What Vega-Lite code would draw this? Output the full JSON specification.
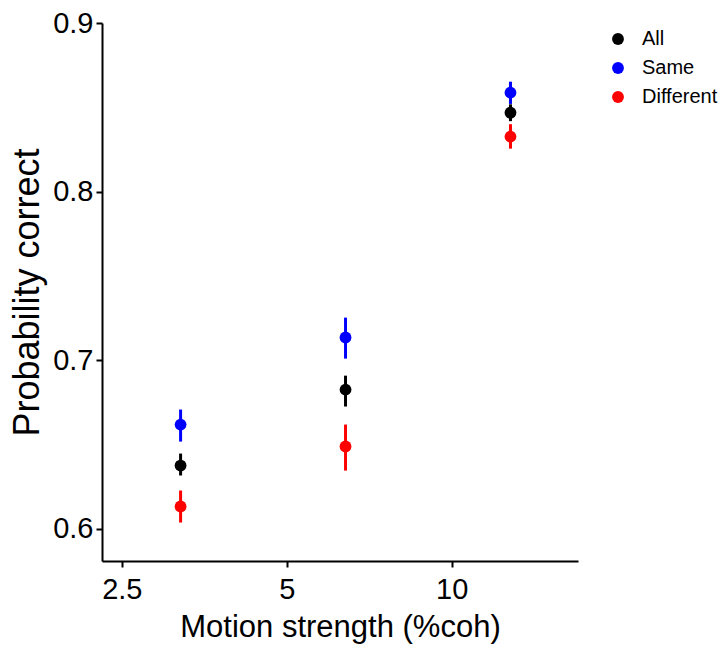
{
  "$schema": "https://vega.github.io/schema/vega-lite/v6.json",
  "width": 476,
  "height": 538,
  "autosize": "none",
  "padding": {"left": 102, "top": 23, "right": 145, "bottom": 87},
  "background": "white",
  "config": {
    "view": {"stroke": null},
    "font": "Liberation Sans",
    "axis": {
      "grid": false,
      "domainColor": "black",
      "domainWidth": 2,
      "tickColor": "black",
      "tickWidth": 2,
      "tickSize": 6,
      "labelColor": "black",
      "titleColor": "black",
      "labelFont": "Liberation Sans",
      "titleFont": "Liberation Sans",
      "titleFontWeight": "normal"
    }
  },
  "data": {
    "values": [
      {"coh": 3.2, "group": "Different", "p": 0.6133, "lo": 0.6038, "hi": 0.6228},
      {"coh": 6.4, "group": "Different", "p": 0.6489, "lo": 0.6346, "hi": 0.6619},
      {"coh": 12.8, "group": "Different", "p": 0.8326, "lo": 0.8255, "hi": 0.840},
      {"coh": 3.2, "group": "Same", "p": 0.6619, "lo": 0.6518, "hi": 0.6708},
      {"coh": 6.4, "group": "Same", "p": 0.7135, "lo": 0.701, "hi": 0.7253},
      {"coh": 12.8, "group": "Same", "p": 0.8587, "lo": 0.852, "hi": 0.8652},
      {"coh": 3.2, "group": "All", "p": 0.6376, "lo": 0.6317, "hi": 0.6447},
      {"coh": 6.4, "group": "All", "p": 0.6826, "lo": 0.6726, "hi": 0.6909},
      {"coh": 12.8, "group": "All", "p": 0.8468, "lo": 0.8418, "hi": 0.8518}
    ]
  },
  "encoding": {
    "x": {
      "field": "coh",
      "type": "quantitative",
      "scale": {"type": "log", "domain": [2.3, 17], "nice": false},
      "axis": {
        "values": [2.5, 5, 10],
        "format": ".1~f",
        "labelFontSize": 29,
        "labelPadding": 8,
        "title": "Motion strength (%coh)",
        "titleFontSize": 31,
        "titlePadding": 8
      }
    },
    "color": {
      "field": "group",
      "type": "nominal",
      "scale": {"domain": ["All", "Same", "Different"], "range": ["#000000", "#0000FF", "#FF0000"]},
      "legend": {
        "title": null,
        "orient": "none",
        "legendX": 506,
        "legendY": 6,
        "padding": 0,
        "symbolType": "circle",
        "symbolSize": 140,
        "symbolStrokeWidth": 0,
        "labelFontSize": 20,
        "labelFont": "Liberation Sans",
        "labelColor": "black",
        "labelOffset": 14,
        "rowPadding": 9
      }
    }
  },
  "layer": [
    {
      "mark": {"type": "rule", "strokeWidth": 3},
      "encoding": {
        "y": {"field": "lo", "type": "quantitative"},
        "y2": {"field": "hi"}
      }
    },
    {
      "mark": {"type": "point", "filled": true, "shape": "circle", "size": 140, "opacity": 1},
      "encoding": {
        "y": {
          "field": "p",
          "type": "quantitative",
          "scale": {"domain": [0.581, 0.9], "nice": false, "zero": false},
          "axis": {
            "values": [0.6, 0.7, 0.8, 0.9],
            "format": ".1f",
            "labelFontSize": 29,
            "labelPadding": 3,
            "title": "Probability correct",
            "titleFontSize": 36,
            "titlePadding": 6
          }
        }
      }
    }
  ]
}
